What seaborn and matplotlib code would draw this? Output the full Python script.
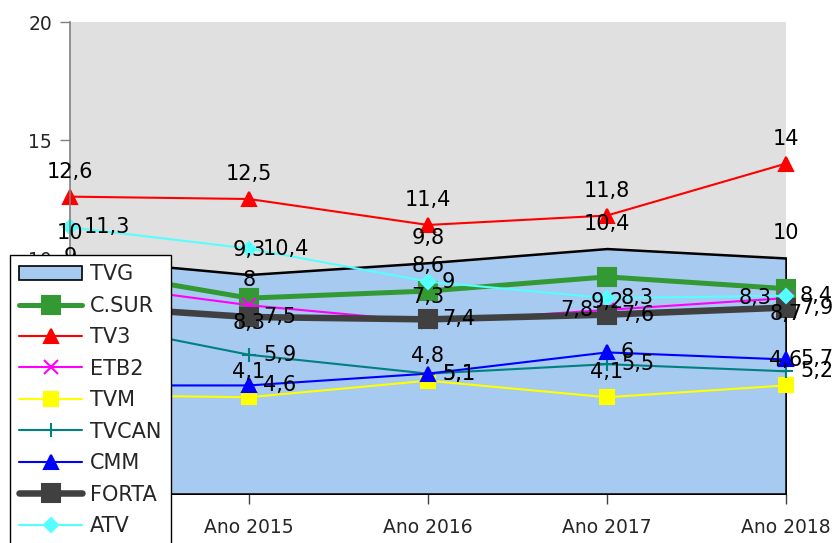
import numpy as np
import pandas as pd
from matplotlib import pyplot as plt
from matplotlib.lines import Line2D
from matplotlib.patches import Patch
import seaborn as sns

# data

years = ['Ano 2014', 'Ano 2015', 'Ano 2016', 'Ano 2017', 'Ano 2018']
tvg = [10, 9.3, 9.8, 10.4, 10]
c_sur = [9.6, 8.3, 8.6, 9.2, 8.7]
tv3 = [12.6, 12.5, 11.4, 11.8, 14]
etb2 = [9, 8, 7.3, 7.8, 8.3]
tvm = [4.2, 4.1, 4.8, 4.1, 4.6]
tvcan = [7.4, 5.9, 5.1, 5.5, 5.2]
cmm = [4.6, 4.6, 5.1, 6, 5.7]
forta = [8, 7.5, 7.4, 7.6, 7.9]
atv = [11.3, 10.4, 9, 8.3, 8.4]

series = {'C.SUR': c_sur, 'TV3': tv3, 'ETB2': etb2, 'TVM': tvm,
          'TVCAN': tvcan, 'CMM': cmm, 'FORTA': forta, 'ATV': atv}

styles = {
    'C.SUR': dict(color='#339933', marker='s', lw=3.6, ms=13),
    'TV3': dict(color='#ff0000', marker='^', lw=1.5, ms=10),
    'ETB2': dict(color='#ff00ff', marker='x', lw=1.5, ms=10),
    'TVM': dict(color='#ffff00', marker='s', lw=1.5, ms=10),
    'TVCAN': dict(color='#008080', marker='+', lw=1.5, ms=10),
    'CMM': dict(color='#0000ff', marker='^', lw=1.5, ms=10),
    'FORTA': dict(color='#404040', marker='s', lw=4.7, ms=13),
    'ATV': dict(color='#55ffff', marker='D', lw=1.5, ms=7.5),
}

# where each data label sits (excel style)
label_pos = {'TVG': 'above', 'C.SUR': 'below', 'TV3': 'above', 'ETB2': 'above',
             'TVM': 'above', 'TVCAN': 'right', 'CMM': 'right', 'FORTA': 'right',
             'ATV': 'right'}
label_override = {('C.SUR', 2): 'above', ('ETB2', 3): 'left', ('ETB2', 4): 'left'}
offsets = {'above': (0, 18, 'center', 'center'), 'below': (0, -18, 'center', 'center'),
           'right': (10, 0, 'left', 'center'), 'left': (-10, 0, 'right', 'center')}

sns.set_style('white')
plt.rcParams['font.family'] = ['DejaVu Sans']

x = np.arange(len(years))
fig = plt.figure(figsize=(8.35, 5.43), dpi=100)
ax = fig.add_axes([70 / 835, 49 / 543, 716 / 835, 472 / 543])
ax.set_facecolor('#e0e0e0')

# TVG as area
ax.fill_between(x, tvg, 0, facecolor='#a6caf0', edgecolor='black', linewidth=1.8, zorder=1)

df = pd.DataFrame([(name, i, v) for name, vals in series.items() for i, v in enumerate(vals)],
                  columns=['serie', 'pos', 'value'])

for name in series:
    st = styles[name]
    sns.lineplot(data=df[df['serie'] == name], x='pos', y='value', ax=ax, color=st['color'],
                 marker=st['marker'], markersize=st['ms'], linewidth=st['lw'],
                 markeredgecolor=st['color'], markeredgewidth=1.5, errorbar=None,
                 clip_on=False, zorder=2)


def fmt(v):
    return f'{v:g}'.replace('.', ',')


all_vals = {'TVG': tvg, **series}
for name, vals in all_vals.items():
    for i, v in enumerate(vals):
        pos = label_override.get((name, i), label_pos[name])
        dx, dy, ha, va = offsets[pos]
        ax.annotate(fmt(v), (i, v), xytext=(dx, dy), textcoords='offset points',
                    ha=ha, va=va, fontsize=15, color='black', annotation_clip=False, zorder=3)

ax.set_xlim(0, 4)
ax.set_ylim(0, 20)
ax.set_xticks(x)
ax.set_xticklabels(years, fontsize=13.5)
ax.set_yticks([0, 5, 10, 15, 20])
ax.tick_params(axis='y', labelsize=13.5, length=7, width=1, color='#808080', pad=6, left=True)
ax.tick_params(axis='x', length=7, width=1, color='#404040', pad=10, bottom=True)
ax.set_xlabel('')
ax.set_ylabel('')
for side in ['top', 'right', 'bottom']:
    ax.spines[side].set_visible(False)
ax.spines['left'].set_color('#808080')
ax.spines['left'].set_linewidth(1.2)

handles = [Patch(facecolor='#a6caf0', edgecolor='black', linewidth=1.2, label='TVG')]
for name in series:
    st = styles[name]
    handles.append(Line2D([], [], color=st['color'], marker=st['marker'], markersize=st['ms'],
                          linewidth=st['lw'], markeredgecolor=st['color'],
                          markeredgewidth=1.5, label=name))
leg = ax.legend(handles=handles, loc='upper left', bbox_to_anchor=(10 / 835, 1 - 255 / 543),
                bbox_transform=fig.transFigure, fontsize=15, handlelength=3,
                handletextpad=0.4, labelspacing=0.55, borderpad=0.45, borderaxespad=0,
                frameon=True, fancybox=False, framealpha=1, edgecolor='black')
leg.get_frame().set_linewidth(1.0)
leg.set_zorder(5)

plt.savefig('out.png', dpi=100)
